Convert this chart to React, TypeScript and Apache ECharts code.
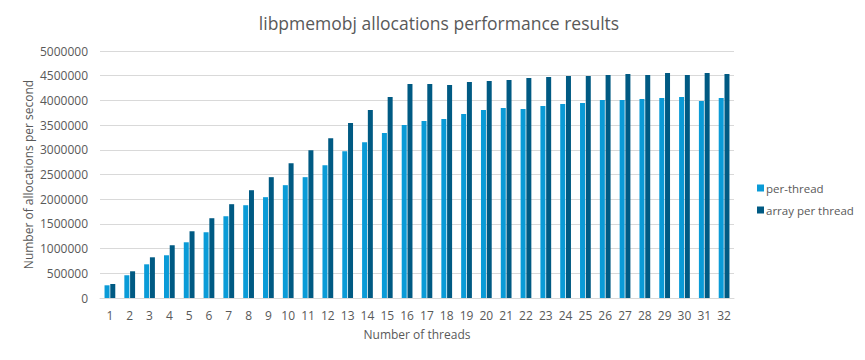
import React, { useEffect, useRef } from "react";
import * as echarts from "echarts";

const threads = ["1","2","3","4","5","6","7","8","9","10","11","12","13","14","15","16","17","18","19","20","21","22","23","24","25","26","27","28","29","30","31","32"];
const perThread = [257000, 459000, 682000, 865000, 1128000, 1331000, 1655000, 1878000, 2041000, 2284000, 2446000, 2689000, 2973000, 3155000, 3338000, 3500000, 3581000, 3622000, 3723000, 3804000, 3845000, 3824000, 3885000, 3926000, 3946000, 4007000, 4007000, 4027000, 4047000, 4068000, 3986000, 4047000];
const arrayPerThread = [284000, 541000, 824000, 1068000, 1351000, 1615000, 1899000, 2182000, 2446000, 2730000, 2993000, 3236000, 3541000, 3804000, 4068000, 4331000, 4331000, 4311000, 4372000, 4392000, 4412000, 4453000, 4473000, 4493000, 4493000, 4514000, 4534000, 4514000, 4554000, 4514000, 4554000, 4534000];
const seriesNames = ["per-thread", "array per thread"];

const FONT = "'Open Sans', 'Noto Sans', sans-serif";
const TEXT = "#595959";

export default function App() {
  const ref = useRef<HTMLDivElement>(null);
  useEffect(() => {
    document.body.style.margin = "0";
    const chart = echarts.init(ref.current!, undefined, { renderer: "svg" });
    chart.setOption({
      animation: false,
      backgroundColor: "#ffffff",
      textStyle: { fontFamily: FONT },
      title: {
        text: "libpmemobj allocations performance results",
        left: 434,
        textAlign: "center",
        top: 9,
        textStyle: { fontFamily: FONT, fontSize: 17.5, fontWeight: "normal", color: TEXT },
      },
      legend: {
        orient: "vertical",
        left: 752,
        top: 177,
        itemWidth: 7,
        itemHeight: 7,
        itemGap: 10,
        icon: "rect",
        textStyle: { fontFamily: FONT, fontSize: 11.5, color: TEXT, padding: [0, 0, 0, -3] },
        data: seriesNames,
      },
      grid: { left: 100, right: 131, top: 51, bottom: 62, containLabel: false },
      xAxis: {
        type: "category",
        data: threads,
        name: "Number of threads",
        nameLocation: "middle",
        nameGap: 30,
        nameTextStyle: { fontFamily: FONT, fontSize: 12, color: TEXT },
        axisLine: { show: true, lineStyle: { color: "#d9d9d9" } },
        axisTick: { show: false },
        axisLabel: { fontFamily: FONT, fontSize: 12, color: TEXT, margin: 11 },
      },
      yAxis: {
        type: "value",
        min: 0,
        max: 5000000,
        interval: 500000,
        name: "Number of allocations per second",
        nameLocation: "middle",
        nameGap: 66,
        nameMoveOverlap: false,
        nameTextStyle: { fontFamily: FONT, fontSize: 12, color: TEXT },
        axisLine: { show: false },
        axisTick: { show: false },
        splitLine: { lineStyle: { color: "#d9d9d9" } },
        axisLabel: { fontFamily: FONT, fontSize: 12, color: TEXT, margin: 12, formatter: (v: number) => String(v) },
      },
      series: [
        { name: seriesNames[0], type: "bar", data: perThread, barWidth: 5, barGap: "15%", itemStyle: { color: "#0a9bd7" } },
        { name: seriesNames[1], type: "bar", data: arrayPerThread, barWidth: 5, itemStyle: { color: "#005a83" } },
      ],
    });
    return () => chart.dispose();
  }, []);
  return <div ref={ref} style={{ width: 865, height: 360 }} />;
}
